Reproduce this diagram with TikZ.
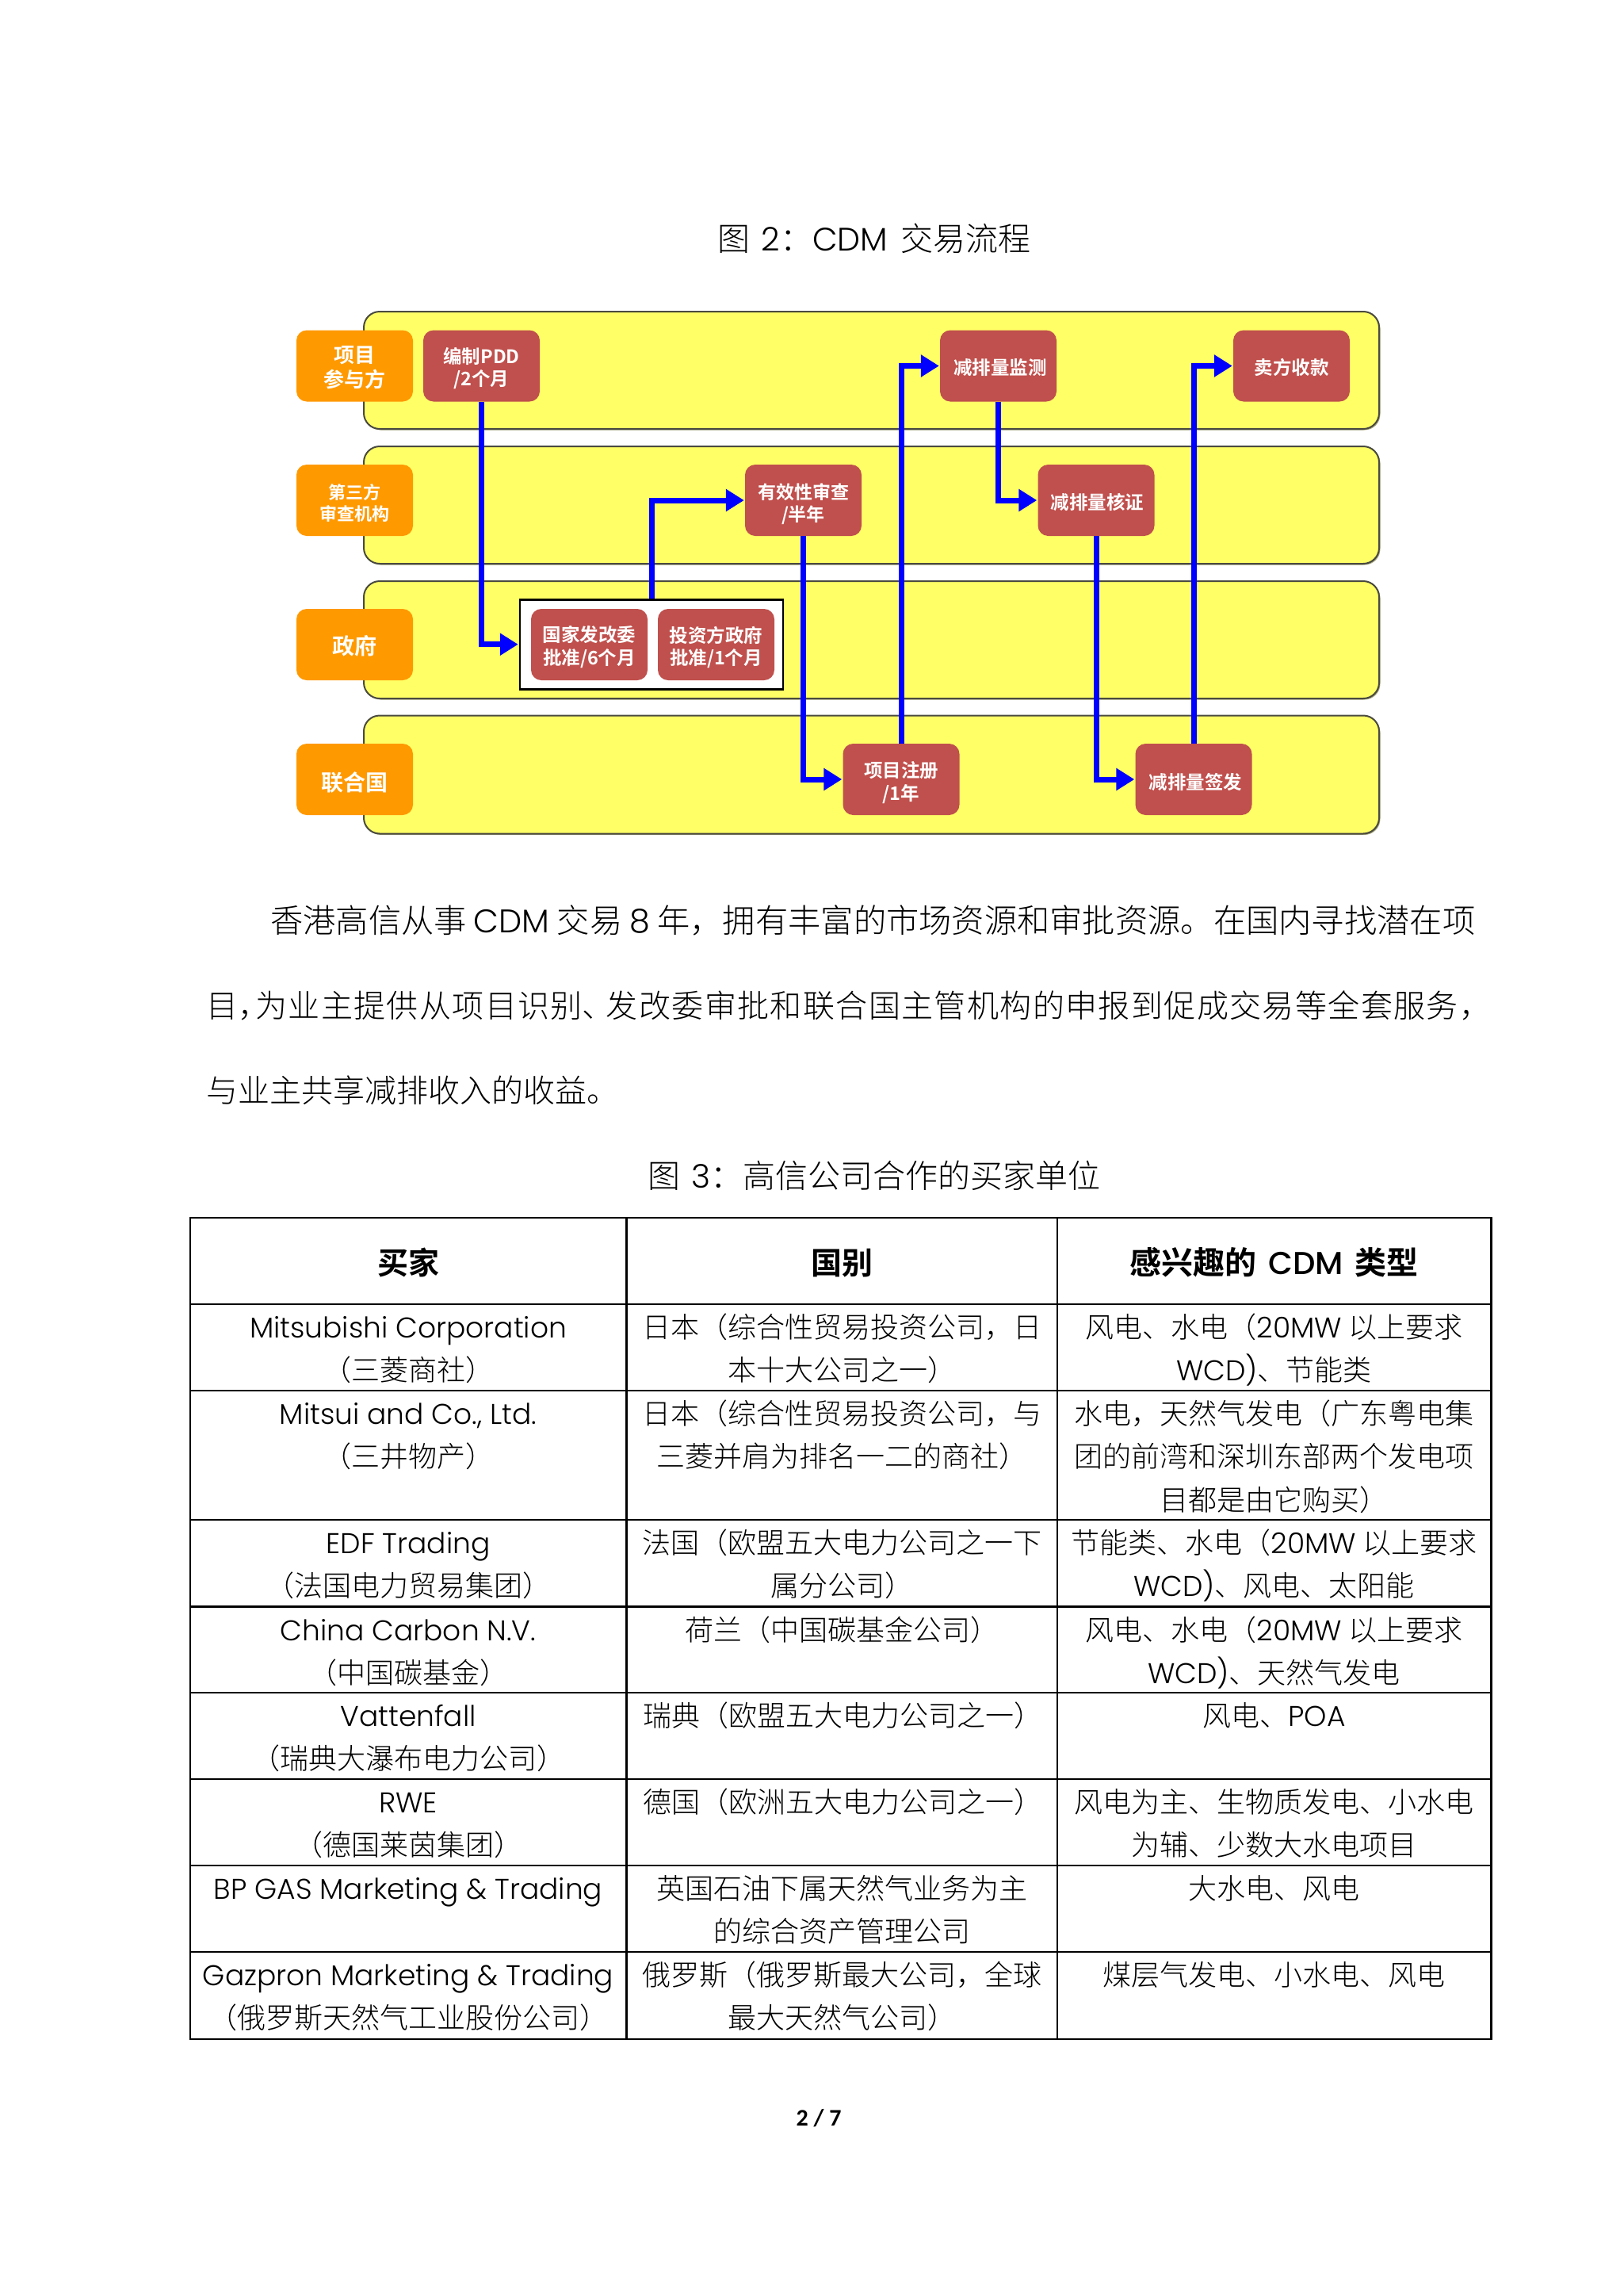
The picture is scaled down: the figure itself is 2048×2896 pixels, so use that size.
\documentclass[tikz,border=0pt]{standalone}
\usepackage{fontspec}
\usepackage{graphicx}
\usetikzlibrary{arrows.meta,shadows}
\IfFontExistsTF{Noto Sans CJK SC Light}{\setmainfont{Noto Sans CJK SC Light}[BoldFont={Noto Sans CJK SC Bold}]}{\setmainfont{Noto Sans CJK SC}}
\IfFontExistsTF{Poppins Light}{\newfontfamily\lafont{Poppins Light}[BoldFont={Poppins Medium}]}{\newfontfamily\lafont{Poppins}}
\newfontfamily\pagefont{Carlito}
\newcommand{\la}[1]{{\lafont #1}}
\newcommand{\fz}[2]{\fontsize{#1}{#2}\selectfont}
\newcommand{\dn}[2][9pt]{\raisebox{\dimexpr-2.5pt-#1\relax}[0pt][0pt]{\begin{tabular}[c]{@{}c@{}}#2\end{tabular}}}
\newcounter{tc}
\definecolor{laneyellow}{HTML}{FFFF66}
\definecolor{laneline}{HTML}{4A4A40}
\definecolor{laneshade}{HTML}{A3A37A}
\definecolor{labelorange}{HTML}{FF9900}
\definecolor{stepred}{HTML}{C0504D}
\tikzset{
  lane/.style={draw=laneline,line width=2pt,fill=laneyellow,rounded corners=20pt,minimum width=1281pt,inner sep=0pt,
    general shadow={shadow xshift=1.5pt,shadow yshift=-1.5pt,fill=laneshade}},
  actor/.style={fill=labelorange,rounded corners=13pt,minimum width=147pt,minimum height=90pt,inner sep=0pt,text=white,align=center,font=\bfseries},
  stepbox/.style={fill=stepred,rounded corners=13pt,minimum width=147pt,minimum height=90pt,inner sep=0pt,text=white,align=center,font=\bfseries\fz{23.5}{28}},
  groupbox/.style={draw=black,line width=2.5pt,fill=white,minimum width=332pt,minimum height=113pt,inner sep=0pt},
  flow/.style={draw=blue,line width=7pt,-{Triangle[length=23pt,width=27pt]},shorten >=1pt},
  caption/.style={anchor=base,inner sep=0pt,font=\fz{41}{48}},
  bodyline/.style={anchor=base west,inner sep=0pt,font=\fz{40}{48}},
  cellline/.style={anchor=base,inner sep=0pt,font=\fz{36}{44}},
  headline/.style={anchor=base,inner sep=0pt,font=\bfseries\fz{39}{46}},
  rule/.style={draw=black,line width=2.4pt,line cap=rect}
}
\newcommand{\tl}[3]{\stepcounter{tc}\node[cellline] (cell\arabic{tc}) at (#1,#2) {#3};}
\newcommand{\hp}[1]{\makebox[#1][l]}
\begin{document}
\begin{tikzpicture}[x=1pt,y=-1pt]
\useasboundingbox[fill=white] (0,0) rectangle (2048,2896);
% captions
\node[caption] (capA) at (1103,316) {图\hspace{14pt}\la{2}：\la{CDM}\hspace{16pt}交易流程};
\node[caption] (capB) at (1103,1498) {图\hspace{14pt}\la{3}：高信公司合作的买家单位};
% lanes
\node[lane,minimum height=148pt] (laneA) at (1099.5,467) {};
\node[lane,minimum height=148pt] (laneB) at (1099.5,637) {};
\node[lane,minimum height=148pt] (laneC) at (1099.5,807) {};
\node[lane,minimum height=149pt] (laneD) at (1099.5,977) {};
% lane titles
\node[actor,font=\bfseries\fz{26}{31}] (actA) at (447.5,461.5) {\dn{项目\\参与方}};
\node[actor,font=\bfseries\fz{22}{26}] (actB) at (447.5,631) {\dn{第三方\\审查机构}};
\node[actor,font=\bfseries\fz{28}{32}] (actC) at (447.5,813) {\dn{政府}};
\node[actor,font=\bfseries\fz{28}{32}] (actD) at (447.5,983) {\dn[11pt]{联合国}};
% group
\node[groupbox] (group) at (822,812.75) {};
% steps
\node[stepbox] (pdd) at (607.5,461.5) {\dn{编制PDD\\/2个月}};
\node[stepbox] (ndrc) at (743.5,813) {\dn{国家发改委\\批准/6个月}};
\node[stepbox] (host) at (903.5,813) {\dn{投资方政府\\批准/1个月}};
\node[stepbox,font=\bfseries\fz{23}{26}] (valid) at (1013.5,631) {\dn[10pt]{有效性审查\\/半年}};
\node[stepbox] (monitor) at (1259.5,461.5) {\dn{\hspace{5pt}减排量监测}};
\node[stepbox] (verify) at (1383,631) {\dn{\hspace{3pt}减排量核证}};
\node[stepbox] (sale) at (1629.5,461.5) {\dn{卖方收款}};
\node[stepbox] (reg) at (1137,983) {\dn[10pt]{项目注册\\/1年}};
\node[stepbox] (issue) at (1506,983) {\dn[10.5pt]{\hspace{5pt}减排量签发}};
% flows
\draw[flow] (pdd.south) |- (group.west);
\draw[flow] (group.north) |- (valid.west);
\draw[flow] (valid.south) |- (reg.west);
\draw[flow] (reg.north) |- (monitor.west);
\draw[flow] (monitor.south) |- (verify.west);
\draw[flow] (verify.south) |- (issue.west);
\draw[flow] (issue.north) |- (sale.west);
% body
\node[bodyline] (bodyA) at (341,1176) {\resizebox{1520pt}{!}{香港高信从事 \la{CDM} 交易 \la{8} 年，拥有丰富的市场资源和审批资源。在国内寻找潜在项}};
\node[bodyline] (bodyB) at (260,1283) {\addfontfeature{LetterSpace=3.5}目\hp{22pt}{，}为业主提供从项目识别\hp{30pt}{、}发改委审批和联合国主管机构的申报到促成交易等全套服务，};
\node[bodyline] (bodyC) at (260,1390) {与业主共享减排收入的收益。};
% table rules
\foreach \yy in {1536,1645,1754,1917,2026.5,2135,2244,2353,2462,2572} \draw[rule] (240,\yy) -- (1881.5,\yy);
\foreach \xx in {240,790.5,1334,1881.5} \draw[rule] (\xx,1536) -- (\xx,2572);
% header
\node[headline] (headA) at (515,1607) {买家};
\node[headline] (headB) at (1062,1607) {国别};
\node[headline,font=\bfseries\fz{40}{46}] (headC) at (1607.5,1607) {感兴趣的\hspace{15pt}\la{\bfseries CDM}\hspace{15pt}类型};
% col 1
\tl{515}{1687}{\la{Mitsubishi Corporation}}
\tl{515}{1741}{（三菱商社）}
\tl{515}{1796}{\la{Mitsui and Co., Ltd.}}
\tl{515}{1850}{（三井物产）}
\tl{515}{1959}{\la{EDF Trading}}
\tl{515}{2013}{（法国电力贸易集团）}
\tl{515}{2069}{\la{China Carbon N.V.}}
\tl{515}{2123}{（中国碳基金）}
\tl{515}{2177}{\la{Vattenfall}}
\tl{515}{2231}{（瑞典大瀑布电力公司）}
\tl{515}{2286}{\la{RWE}}
\tl{515}{2340}{（德国莱茵集团）}
\tl{515}{2395}{\la{BP GAS Marketing \& Trading}}
\tl{515}{2504}{\la{Gazpron Marketing \& Trading}}
\tl{515}{2558}{（俄罗斯天然气工业股份公司）}
% col 2
\tl{1062}{1687}{日本（综合性贸易投资公司，日}
\tl{1062}{1741}{本十大公司之一）}
\tl{1062}{1796}{日本（综合性贸易投资公司，与}
\tl{1062}{1850}{三菱并肩为排名一二的商社）}
\tl{1062}{1959}{法国（欧盟五大电力公司之一下}
\tl{1062}{2013}{属分公司）}
\tl{1062}{2069}{荷兰（中国碳基金公司）}
\tl{1063}{2177}{瑞典（欧盟五大电力公司之一）}
\tl{1063}{2286}{德国（欧洲五大电力公司之一）}
\tl{1062}{2395}{英国石油下属天然气业务为主}
\tl{1062}{2449}{的综合资产管理公司}
\tl{1062}{2504}{俄罗斯（俄罗斯最大公司，全球}
\tl{1062}{2558}{最大天然气公司）}
% col 3
\tl{1607.5}{1687}{风电、水电（\la{20MW} 以上要求}
\tl{1607.5}{1741}{\la{WCD)}、节能类}
\tl{1607.5}{1796}{水电，天然气发电（广东粤电集}
\tl{1607.5}{1850}{团的前湾和深圳东部两个发电项}
\tl{1607.5}{1905}{目都是由它购买）}
\tl{1607.5}{1959}{节能类、水电（\la{20MW} 以上要求}
\tl{1607.5}{2013}{\la{WCD)}、风电、太阳能}
\tl{1607.5}{2069}{风电、水电（\la{20MW} 以上要求}
\tl{1607.5}{2123}{\la{WCD)}、天然气发电}
\tl{1607.5}{2177}{风电、\la{POA}}
\tl{1607.5}{2286}{风电为主、生物质发电、小水电}
\tl{1607.5}{2340}{为辅、少数大水电项目}
\tl{1607.5}{2395}{大水电、风电}
\tl{1607.5}{2504}{煤层气发电、小水电、风电}
% folio
\node[anchor=center,inner sep=0pt,font=\pagefont\bfseries\fz{30}{34}] (folio) at (1033,2672) {2 / 7};
\end{tikzpicture}
\end{document}
